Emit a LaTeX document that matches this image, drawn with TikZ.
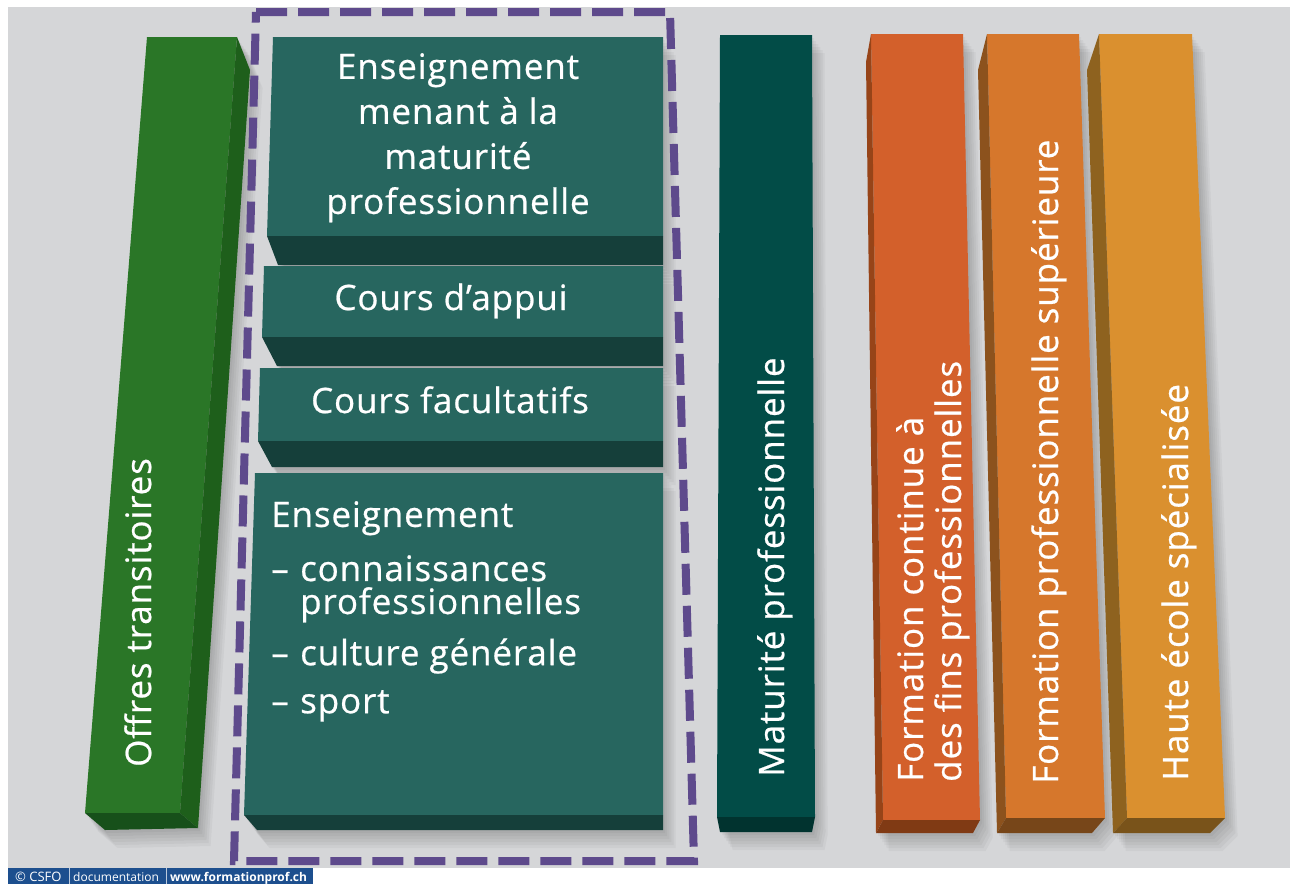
\documentclass[tikz,border=0pt]{standalone}
\usepackage{fontspec}
\setmainfont{Open Sans}
\newfontfamily\labelfont{Open Sans}[LetterSpace=2.5, FakeBold=0.6]
\usepackage{tikz}
\definecolor{bgray}{HTML}{D5D6D8}
\definecolor{offresgreen}{HTML}{2A7627}
\definecolor{offresside}{HTML}{1E5F1B}
\definecolor{offresbottom}{HTML}{17501A}
\definecolor{slabfront}{HTML}{27665F}
\definecolor{slabbottom}{HTML}{153F3A}
\definecolor{mpfront}{HTML}{024C47}
\definecolor{mpbottom}{HTML}{01332F}
\definecolor{fcfront}{HTML}{D3602B}
\definecolor{fcside}{HTML}{974418}
\definecolor{fpsfront}{HTML}{D6772C}
\definecolor{fpsside}{HTML}{8C521D}
\definecolor{hesfront}{HTML}{DA902F}
\definecolor{hesside}{HTML}{8E621F}
\definecolor{frame}{HTML}{5E4A8C}
\definecolor{csfoblue}{HTML}{1D4F8E}
\tikzset{
 slabtext/.style={text=white, inner sep=0pt, font=\labelfont\fontsize{35}{45}\selectfont},
 bartext/.style={slabtext, rotate=90, anchor=base west},
 foot/.style={text=white, inner sep=0pt, anchor=base west, font=\fontsize{12}{14}\selectfont},
 }
\newcommand{\blockshadow}[1]{%
  \foreach \d in {3,6,...,18} {\fill[black, opacity=0.035, xshift={0.7pt*\d}, yshift={-1pt*\d}] #1 -- cycle;}}

\begin{document}
\begin{tikzpicture}[x=1pt, y=-1pt]
        \useasboundingbox (0,0) rectangle (1290,884);
        \fill[bgray] (8,7) rectangle (1290,868);
        % Offres transitoires
        \blockshadow{(147,37) -- (237,37) -- (250,70) -- (198,828) -- (105,830) -- (85,813)}
        \fill[offresgreen] (147,37) -- (237,37) -- (180,813) -- (85,813) -- cycle;
        \fill[offresside] (237,37) -- (250,70) -- (198,828) -- (180,813) -- cycle;
        \fill[offresbottom] (85,813) -- (180,813) -- (198,828) -- (105,830) -- cycle;
        % slabs
        \foreach \t/\b/\u/\lt/\lb/\lu in {37/236/265/273/267/278, 266/337/366/264/262/277,
                368/441/467/260/258/272, 473/815/830/255/244/257} {
            \blockshadow{(\lt,\t) -- (663,\t) -- (663,\u) -- (\lu,\u) -- (\lb,\b)}
            \fill[slabfront] (\lt,\t) -- (663,\t) -- (663,\b) -- (\lb,\b) -- cycle;
            \fill[slabbottom] (\lb,\b) -- (663,\b) -- (663,\u) -- (\lu,\u) -- cycle;
        }
        % Maturite professionnelle
        \blockshadow{(720,35) -- (812,35) -- (815,817) -- (812,832) -- (720,832) -- (717,817)}
        \fill[mpfront] (720,35) -- (812,35) -- (815,817) -- (717,817) -- cycle;
        \fill[mpbottom] (717,817) -- (815,817) -- (812,832) -- (720,832) -- cycle;
        % orange bars
        \blockshadow{(871,34) -- (963,34) -- (980,820) -- (973,833) -- (876,833) -- (866,62)}
        \fill[fcfront] (871,34) -- (963,34) -- (980,820) -- (883,820) -- cycle;
        \fill[fcside] (871,34) -- (866,62) -- (876,833) -- (883,820) -- cycle;
        \fill[fcside!85!black] (883,820) -- (980,820) -- (973,833) -- (876,833) -- cycle;
        \blockshadow{(987,34) -- (1079,34) -- (1105,818) -- (1092,833) -- (997,833) -- (978,70)}
        \fill[fpsfront] (987,34) -- (1079,34) -- (1105,818) -- (1006,818) -- cycle;
        \fill[fpsside] (987,34) -- (978,70) -- (997,833) -- (1006,818) -- cycle;
        \fill[fpsside!85!black] (1006,818) -- (1105,818) -- (1092,833) -- (997,833) -- cycle;
        \blockshadow{(1099,34) -- (1192,34) -- (1225,818) -- (1210,833) -- (1113,833) -- (1087,70)}
        \fill[hesfront] (1099,34) -- (1192,34) -- (1225,818) -- (1127,818) -- cycle;
        \fill[hesside] (1099,34) -- (1087,70) -- (1113,833) -- (1127,818) -- cycle;
        \fill[hesside!85!black] (1127,818) -- (1225,818) -- (1210,833) -- (1113,833) -- cycle;
        % frame
        \draw[frame, line width=8pt, dash pattern=on 31pt off 11pt]
            (256,12) -- (670,12) -- (694,861) -- (234,861) -- cycle;
        % labels
        \node[slabtext, anchor=north, align=center] (mpens) at (458,53)
            {Enseignement\\menant à la\\maturité\\professionnelle};
        \node[slabtext, anchor=base] (appui) at (451,310) {Cours d’appui};
        \node[slabtext, anchor=base] (facult) at (450,413) {Cours facultatifs};
        \node[slabtext, anchor=north west, align=left, font=\labelfont\fontsize{35}{33}\selectfont] (ens) at (271,501)
            {Enseignement\\[19pt]\makebox[29pt][l]{–}connaissances\\\hspace*{29pt}professionnelles\\[15pt]%
             \makebox[29pt][l]{–}culture générale\\[15pt]\makebox[29pt][l]{–}sport};
        \node[bartext] (offres) at (151,767) {Offres transitoires};
        \node[bartext] (maturite) at (784,777) {Maturité professionnelle};
        \node[slabtext, rotate=90, anchor=north west, align=left, font=\labelfont\fontsize{35}{38}\selectfont] (fcontinue)
            at (896,782) {Formation continue à\\des fins professionnelles};
        \node[bartext] (fps) at (1058,784) {Formation professionnelle supérieure};
        \node[bartext] (hes) at (1188,781) {Haute école spécialisée};
        % footer
        \fill[csfoblue] (8,868) rectangle (313,884);
        \draw[white!70!csfoblue, line width=0.8pt] (69,868) -- (69,884) (166,868) -- (166,884);
        \node[foot, font=\fontsize{13}{14}\selectfont] (csfo) at (15,881) {© CSFO};
        \node[foot] (doc) at (73,881) {documentation};
        \node[foot, font=\fontsize{12}{14}\selectfont\bfseries] (www) at (170,881) {www.formationprof.ch};
    \end{tikzpicture}
\end{document}
